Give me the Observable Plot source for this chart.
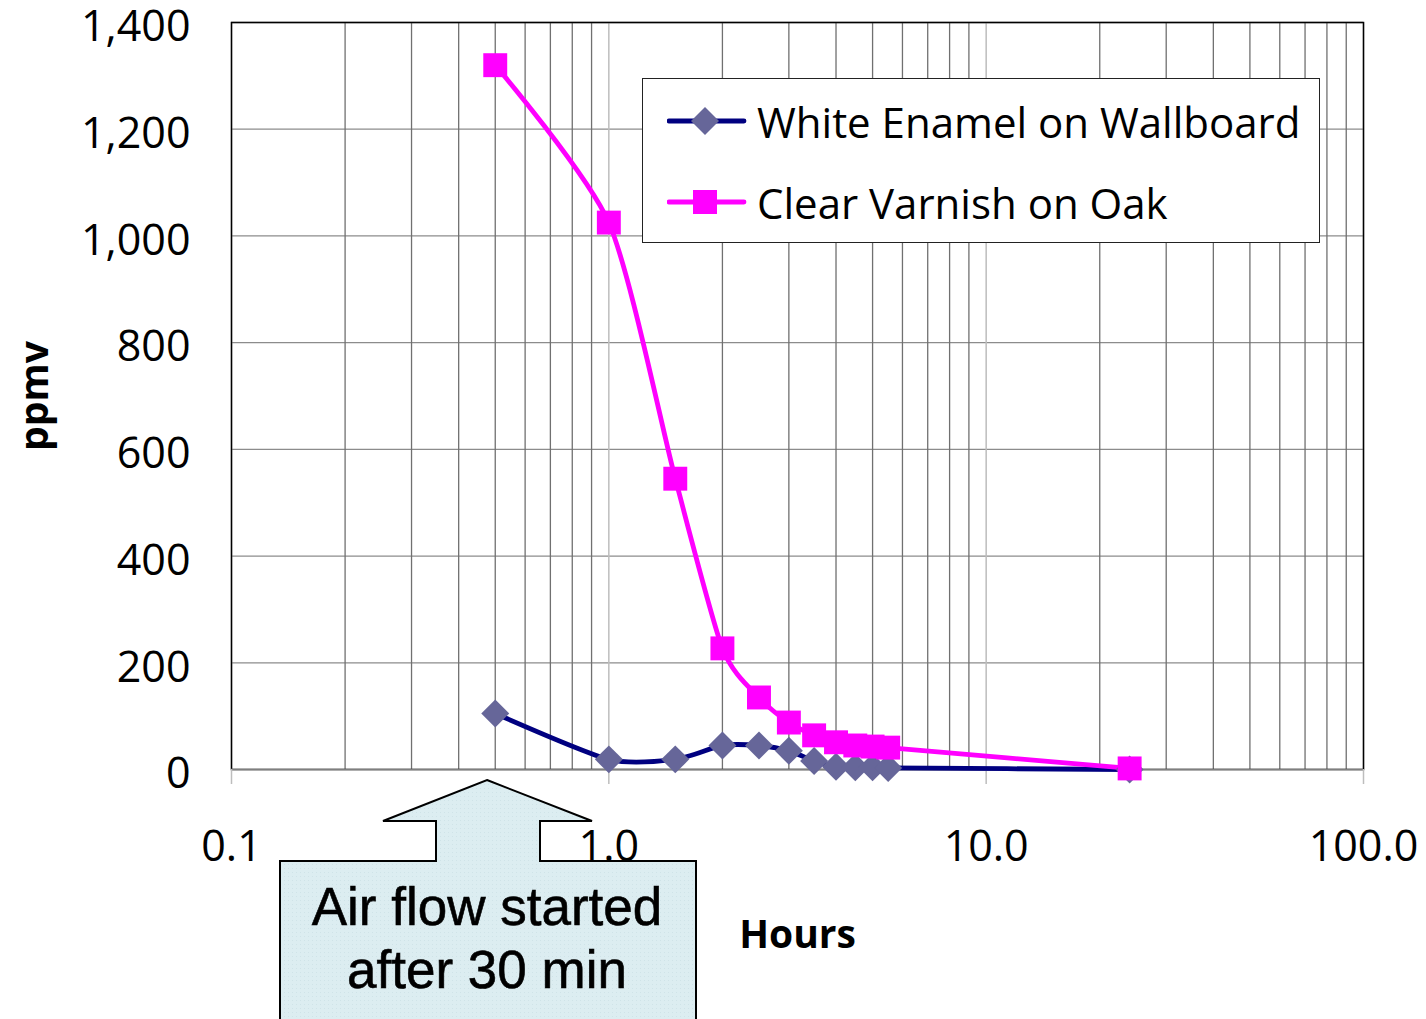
<!DOCTYPE html>
<html>
<head>
<meta charset="utf-8">
<script src="https://cdn.jsdelivr.net/npm/d3@7"></script>
<script src="https://cdn.jsdelivr.net/npm/@observablehq/plot@0.6"></script>
<style>
  html, body { margin: 0; padding: 0; background: #fff; }
  #wrap { position: relative; width: 1426px; height: 1019px; overflow: hidden; font-family: "Open Sans", sans-serif; }
  #legend { position: absolute; left: 642px; top: 78px; width: 676px; height: 163px; border: 1.5px solid #222; background: #fff; }
  .lg-row { position: absolute; left: 0; height: 60px; display: flex; align-items: center; }
  .lg-row span { font-size: 42px; color: #000; margin-left: 10px; white-space: nowrap; }
  #callout { position: absolute; left: 0; top: 0; }
</style>
</head>
<body>
<div id="wrap"></div>
<script>
// ---- data ----
const hours   = [0.5, 1.0, 1.5, 2.0, 2.5, 3.0, 3.5, 4.0, 4.5, 5.0, 5.5, 24];
const enamel  = [105, 19, 19, 45, 45, 35, 16, 5, 4, 4, 3, 0];
const varnish = [1320, 1025, 545, 227, 135, 88, 64, 51, 45, 43, 41, 2];
const seriesNames  = ["White Enamel on Wallboard", "Clear Varnish on Oak"];
const seriesLine   = ["#000080", "#FF00FF"];
const seriesMarker = ["#666699", "#FF00FF"];
const xTicks = [0.1, 1, 10, 100];
const yTicks = [0, 200, 400, 600, 800, 1000, 1200, 1400];
const xTitle = "Hours";
const yTitle = "ppmv";
const noteLines = ["Air flow started", "after 30 min"];

// build table
const rows = [];
seriesNames.forEach((s, i) => {
  const vals = i === 0 ? enamel : varnish;
  hours.forEach((h, j) => rows.push({series: s, hours: h, ppmv: vals[j]}));
});

// minor/major log gridlines
const majorGrid = xTicks;
const minorGrid = [];
for (const dec of [0.1, 1, 10]) for (let k = 2; k <= 9; k++) minorGrid.push(+(dec * k).toFixed(3));

const colorLine = d3.scaleOrdinal(seriesNames, seriesLine);

const chart = Plot.plot({
  width: 1426,
  height: 1019,
  marginLeft: 231,
  marginRight: 63,
  marginTop: 22,
  marginBottom: 250,
  style: {fontFamily: "Open Sans, sans-serif", fontSize: "43px", color: "#000", background: "transparent", overflow: "visible"},
  x: {type: "log", domain: [0.1, 100]},
  y: {domain: [0, 1400]},
  marks: [
    Plot.ruleY(yTicks.filter(d => d > 0), {stroke: "#8c8c8c", strokeWidth: 1.3}),
    Plot.ruleX(minorGrid, {stroke: "#707070", strokeWidth: 1.3}),
    Plot.ruleX(majorGrid, {stroke: "#bdbdbd", strokeWidth: 1.5}),
    Plot.frame({stroke: "#000", strokeWidth: 1.5}),
    Plot.ruleY([0], {stroke: "#7f7f7f", strokeWidth: 1.5}),
    Plot.axisX({ticks: xTicks, tickFormat: () => "", tickSize: 15, stroke: "#bdbdbd", strokeWidth: 1.5, label: null}),
    Plot.axisX({ticks: xTicks, tickFormat: d => d.toFixed(1), tickSize: 0, tickPadding: 61, label: null, fontSize: 43}),
    Plot.axisY({ticks: yTicks, tickFormat: d3.format(","), tickSize: 0, tickPadding: 41, dy: 5, label: null, fontSize: 43}),
    Plot.line(rows, {x: "hours", y: "ppmv", z: "series", stroke: d => colorLine(d.series), strokeWidth: 4.8, curve: "cardinal", tension: 0.3}),
    Plot.dot(rows.filter(d => d.series === seriesNames[0]), {x: "hours", y: "ppmv", symbol: "diamond2", r: 12.6, fill: seriesMarker[0], stroke: "none"}),
    Plot.dot(rows.filter(d => d.series === seriesNames[1]), {x: "hours", y: "ppmv", symbol: "square", r: 13.5, fill: seriesMarker[1], stroke: "none"}),
    Plot.text([yTitle], {frameAnchor: "left", dx: -196, rotate: -90, fontWeight: "bold", fontSize: 39, textAnchor: "middle"}),
    Plot.text([xTitle], {frameAnchor: "bottom", dy: 166, fontWeight: "bold", fontSize: 39, textAnchor: "middle", lineAnchor: "middle"})
  ]
});

const wrap = document.getElementById("wrap");
wrap.appendChild(chart);

// legend
const legend = document.createElement("div");
legend.id = "legend";
seriesNames.forEach((s, i) => {
  const row = document.createElement("div");
  row.className = "lg-row";
  row.style.top = (i === 0 ? 12 : 93) + "px";
  row.style.left = "24px";
  const sym = i === 0
    ? `<polygon points="38,16 52,30 38,44 24,30" fill="${seriesMarker[i]}"/>`
    : `<rect x="26" y="18" width="24" height="24" fill="${seriesMarker[i]}"/>`;
  row.innerHTML = `<svg width="80" height="60"><line x1="2" y1="30" x2="77" y2="30" stroke="${seriesLine[i]}" stroke-width="4.8" stroke-linecap="round"/>${sym}</svg><span>${s}</span>`;
  legend.appendChild(row);
});
wrap.appendChild(legend);

// callout annotation
const ns = "http://www.w3.org/2000/svg";
const call = document.createElementNS(ns, "svg");
call.setAttribute("id", "callout");
call.setAttribute("width", 1426);
call.setAttribute("height", 1019);
call.innerHTML = `
  <defs><pattern id="dots" width="4" height="4" patternUnits="userSpaceOnUse">
    <rect width="4" height="4" fill="#dcedf1"/><rect width="1" height="1" fill="#cfe3e8"/></pattern></defs>
  <polygon points="487,780 592,821 540,821 540,861 696,861 696,1030 280,1030 280,861 436,861 436,821 383,821"
    fill="url(#dots)" stroke="#000" stroke-width="2"/>
  <text x="487" y="925" text-anchor="middle" font-family="Liberation Sans, Arial, sans-serif" font-size="53" stroke="#000" stroke-width="0.6">${noteLines[0]}</text>
  <text x="487" y="988" text-anchor="middle" font-family="Liberation Sans, Arial, sans-serif" font-size="53" stroke="#000" stroke-width="0.6">${noteLines[1]}</text>`;
wrap.appendChild(call);
</script>
</body>
</html>
